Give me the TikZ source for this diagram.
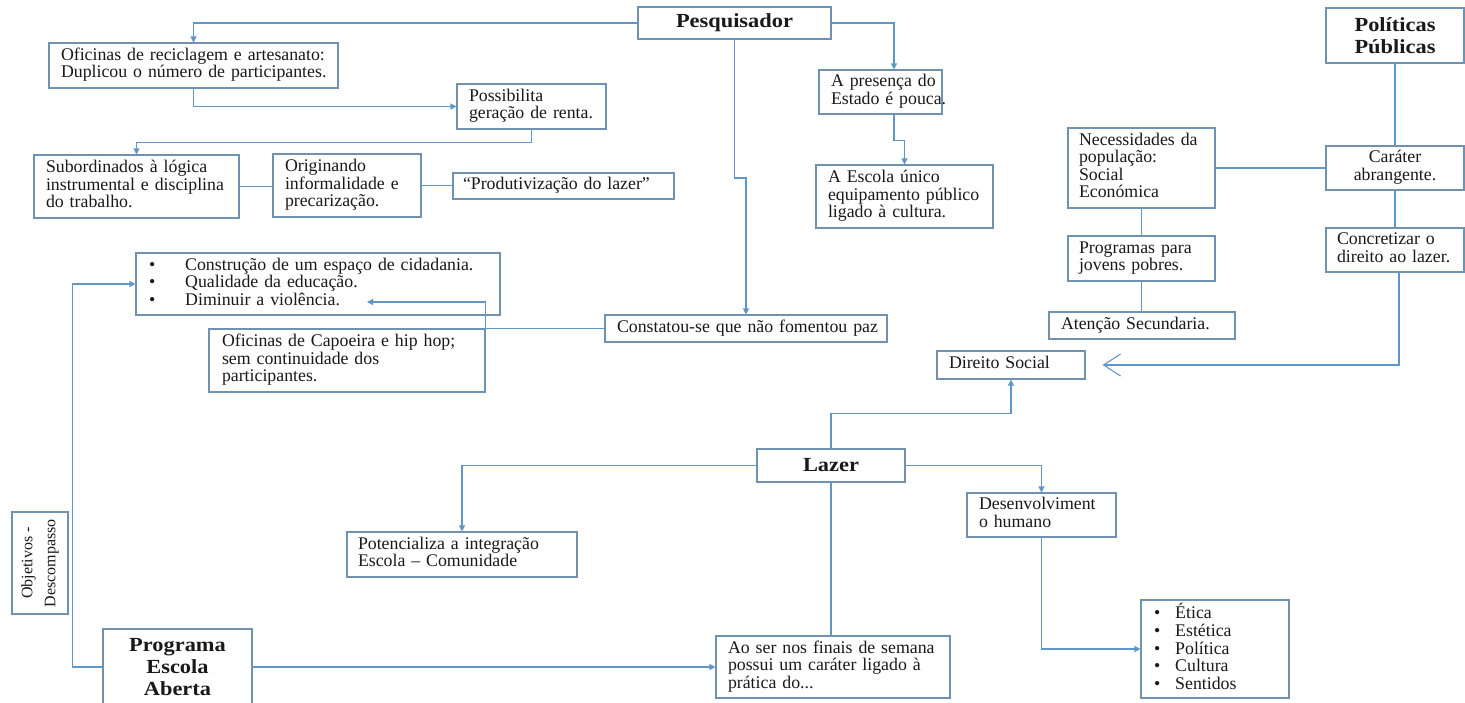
\documentclass[tikz,border=0pt]{standalone}
\usepackage{fontspec}
\setmainfont{Liberation Serif}
\newfontfamily\hfont{Liberation Serif}[FakeStretch=1.12]
\usetikzlibrary{arrows.meta}
\definecolor{lc}{RGB}{96,150,200}
\definecolor{bc}{RGB}{112,146,176}
\definecolor{tc}{RGB}{25,25,25}
\newcommand\tl[1]{\begin{tabular}{@{}l@{}}#1\end{tabular}}
\begin{document}
\begin{tikzpicture}[x=1pt,y=-1pt,
  box/.style={draw=bc, line width=1.1pt, fill=white, inner sep=0pt, text=tc, font=\fontsize{17.8}{17.3}\selectfont},
  lbox/.style={box, align=left},
  head/.style={box, align=center, font=\hfont\bfseries\fontsize{20}{22}\selectfont},
  arr/.style={draw=lc, line width=1.1pt, -{Triangle[length=6pt,width=6pt]}},
  ln/.style={draw=lc, line width=1.1pt},
  openarr/.style={draw=lc, line width=1.1pt, -{Straight Barb[length=17pt,width=22pt,line width=1.1pt]}}
]
\fill[white] (0,0) rectangle (1465,702);
\useasboundingbox (0,0) rectangle (1465,702);

% nodes
\node[head, minimum width=193, minimum height=32] (pesq) at (734.5,23) {Pesquisador};
\node[lbox, minimum width=289, minimum height=45, text width=265pt] (ofi) at (193.5,65.5)
  {\tl{Oficinas de reciclagem e artesanato:\\Duplicou o número de participantes.}};
\node[lbox, minimum width=149, minimum height=45, text width=125pt] (poss) at (531.5,106.5)
  {\tl{Possibilita\\geração de renta.}};
\node[lbox, minimum width=205, minimum height=63, text width=181pt] (subord) at (136.5,186.5)
  {\tl{Subordinados à lógica\\instrumental e disciplina\\do trabalho.}};
\node[lbox, minimum width=148, minimum height=63, text width=124pt] (orig) at (347,185.5)
  {\tl{Originando\\informalidade e\\precarização.}};
\node[lbox, minimum width=221, minimum height=26, text width=201pt] (prod) at (563.5,186)
  {\tl{“Produtivização do lazer”}};
\node[lbox, minimum width=123, minimum height=44, text width=99pt] (pres) at (880.5,92)
  {\tl{A presença do\\Estado é pouca.}};
\node[lbox, minimum width=177, minimum height=63, text width=153pt] (escola) at (904.5,196.5)
  {\tl{A Escola único\\equipamento público\\ligado à cultura.}};
\node[head, minimum width=138, minimum height=55] (poli) at (1395,35.5) {Políticas\\Públicas};
\node[lbox, minimum width=147, minimum height=80, text width=125pt] (nec) at (1141.5,168)
  {\tl{Necessidades da\\população:\\Social\\Económica}};
\node[box, align=center, minimum width=138, minimum height=44] (car) at (1395,168)
  {\tl{\hfill Caráter\hfill\null\\abrangente.}};
\node[lbox, minimum width=138, minimum height=44, text width=116pt] (conc) at (1395,250)
  {\tl{Concretizar o\\direito ao lazer.}};
\node[lbox, minimum width=147, minimum height=45, text width=125pt] (prog) at (1141.5,258.5)
  {\tl{Programas para\\jovens pobres.}};
\node[lbox, minimum width=186, minimum height=27, text width=162pt] (aten) at (1142,325.5)
  {\tl{Atenção Secundaria.}};
\node[lbox, minimum width=148, minimum height=28, text width=124pt] (dsoc) at (1011,365)
  {\tl{Direito Social}};
\node[lbox, minimum width=282, minimum height=27, text width=258pt] (const) at (746,328.5)
  {\tl{Constatou-se que não fomentou paz}};
\node[lbox, minimum width=364, minimum height=62, text width=338pt] (bul) at (318,284)
  {\begin{tabular}{@{}l@{\hspace{30pt}}l@{}}
   \textbullet & Construção de um espaço de cidadania.\\
   \textbullet & Qualidade da educação.\\
   \textbullet & Diminuir a violência.
   \end{tabular}};
\node[lbox, minimum width=276, minimum height=63, text width=250pt] (capo) at (347,360.5)
  {\tl{Oficinas de Capoeira e hip hop;\\sem continuidade dos\\participantes.}};
\node[head, minimum width=148, minimum height=33] (lazer) at (831,465.5) {Lazer};
\node[lbox, minimum width=149, minimum height=44, text width=125pt] (desen) at (1041.5,515)
  {\tl{Desenvolviment\\o humano}};
\node[lbox, minimum width=230, minimum height=45, text width=208pt] (pot) at (462,554.5)
  {\tl{Potencializa a integração\\Escola – Comunidade}};
\node[lbox, minimum width=148, minimum height=98, text width=122pt] (etica) at (1215,649)
  {\begin{tabular}{@{}l@{\hspace{15pt}}l@{}}
   \textbullet & Ética\\
   \textbullet & Estética\\
   \textbullet & Política\\
   \textbullet & Cultura\\
   \textbullet & Sentidos
   \end{tabular}};
\node[lbox, minimum width=234, minimum height=62, text width=210pt] (aoser) at (833,667)
  {\tl{Ao ser nos finais de semana\\possui um caráter ligado à\\prática do...}};
\node[box, align=center, rotate=90, minimum width=102, minimum height=56,
  font=\fontsize{16}{23}\selectfont] (obj) at (40,563) {Objetivos -\\Descompasso};
\node[head, minimum width=149, minimum height=76] (progesc) at (177.5,667) {Programa\\Escola\\Aberta};
\coordinate (viol) at (367,302);

% connectors
\draw[arr] (pesq.west) -| (ofi.north);
\draw[arr] (pesq.east) -| ([xshift=13.5pt]pres.north);
\draw[arr] (pesq.south) -- (pesq.south |- 0,178) -- (const.north |- 0,178) -- (const.north);
\draw[arr] (ofi.south) |- (poss.west);
\draw[arr] (poss.south) -- ++(0,13) -| (subord.north);
\draw[ln] (subord.east) -- (subord.east -| orig.west);
\draw[ln] (orig.east) -- (orig.east -| prod.west);
\draw[arr] ([xshift=13.5pt]pres.south) -- ++(0,26) -| (escola.north);
\draw[ln] (poli.south) -- (car.north);
\draw[ln] (nec.east) -- (nec.east -| car.west);
\draw[ln] (car.south) -- (conc.north);
\draw[ln] (nec.south) -- (prog.north);
\draw[ln] (prog.south) -- (prog.south |- aten.north);
\draw[openarr, shorten >=17pt] ([xshift=4pt]conc.south) |- (dsoc.east);
\draw[arr] (lazer.north) -- ++(0,-35) -| (dsoc.south);
\draw[arr] (lazer.west) -| (pot.north);
\draw[arr] (lazer.east) -| (desen.north);
\draw[ln] (lazer.south) -- (lazer.south |- aoser.north);
\draw[arr] (desen.south) |- (etica.west);
\draw[arr] (progesc.west) -- ++(-30,0) |- (bul.west);
\draw[arr] (progesc.east) -- (aoser.west);
\draw[arr] (const.west) -- (const.west -| capo.east) |- (viol);
\end{tikzpicture}
\end{document}
